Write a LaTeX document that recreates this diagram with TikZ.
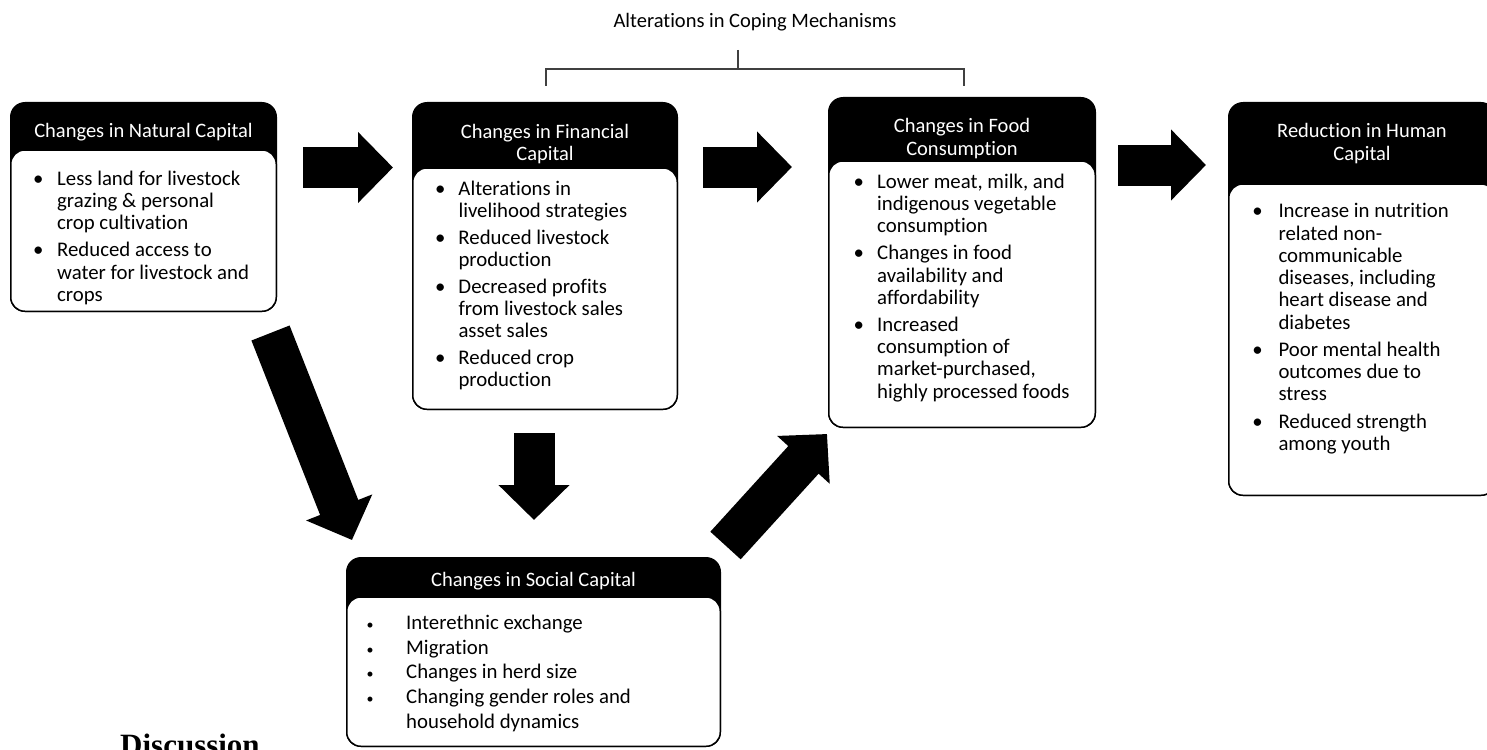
\documentclass[tikz,border=0pt]{standalone}
\usepackage{fontspec}
\setmainfont{Carlito}[Ligatures={NoCommon}]
\newfontfamily\discfont{Liberation Serif}
\usetikzlibrary{arrows.meta}
\tikzset{
  hdr/.style={rectangle, rounded corners=15pt, fill=black, inner sep=0pt, outer sep=0pt, anchor=north west},
  bodybox/.style={rectangle, rounded corners=14pt, fill=white, draw=black, line width=1.5pt, inner sep=0pt, outer sep=0pt, anchor=north west},
  ttl/.style={text=white, anchor=base, inner sep=0pt, font=\fontsize{20.5}{22.3}\selectfont},
  txt/.style={text=black, anchor=base west, inner sep=0pt, font=\fontsize{20.8}{22.3}\selectfont},
  fat/.style={line width=41pt, -{Triangle[length=35pt,width=69pt]}},
  brk/.style={line width=1.3pt, draw=black!75},
}
\newcommand\bul[1]{\llap{\makebox[0pt][c]{\textbullet}\hspace{#1}}}
\newcommand\sbul{\llap{\makebox[0pt][c]{\fontsize{14}{14}\selectfont\textbullet}\hspace{36pt}}}
\newcommand\lft[1]{\begin{tabular}[t]{@{}l@{}}#1\end{tabular}}
\newcommand\ctr[1]{\begin{tabular}[t]{@{}c@{}}#1\end{tabular}}
\begin{document}
\begin{tikzpicture}[x=1pt,y=-1pt]
\clip (0,0) rectangle (1487,749);
% top bracket
\node[anchor=base, inner sep=0pt, font=\fontsize{20.5}{22.3}\selectfont] (cope) at (755,28) {Alterations in Coping Mechanisms};
\coordinate (bt) at (738,50);
\coordinate (bm) at (738,69);
\coordinate (bl) at (546,86);
\coordinate (br) at (964,69);
\coordinate (brd) at (964,86);
\draw[brk] (bt) -- (bm);
\draw[brk] (bl) |- (br) -- (brd);
% box 1
\node[hdr, minimum width=267pt, minimum height=210pt] (nat) at (10,102) {};
\node[bodybox, minimum width=265.5pt, minimum height=161.25pt] (natb) at (10.75,150) {};
\node[ttl] (natt) at (143.5,138) {\ctr{Changes in Natural Capital}};
\node[txt] (natx) at (57,185) {\lft{\bul{19pt}Less land for livestock\\grazing \& personal\\crop cultivation\\[5pt]
\bul{19pt}Reduced access to\\water for livestock and\\crops}};
% box 2
\node[hdr, minimum width=266pt, minimum height=308pt] (fin) at (412,102) {};
\node[bodybox, minimum width=264.5pt, minimum height=241.25pt] (finb) at (412.75,168) {};
\node[ttl] (fint) at (545,138.3) {\ctr{Changes in Financial\\Capital}};
\node[txt] (finx) at (458.3,195) {\lft{\bul{18.3pt}Alterations in\\livelihood strategies\\[4.5pt]
\bul{18.3pt}Reduced livestock\\production\\[4.5pt]
\bul{18.3pt}Decreased profits\\from livestock sales\\asset sales\\[4.5pt]
\bul{18.3pt}Reduced crop\\production}};
% box 3
\node[hdr, minimum width=268pt, minimum height=331pt] (food) at (828,97) {};
\node[bodybox, minimum width=266.5pt, minimum height=266.25pt] (foodb) at (828.75,161) {};
\node[ttl] (foodt) at (962,132.7) {\ctr{Changes in Food\\Consumption}};
\node[txt] (foodx) at (877,188.3) {\lft{\bul{18.5pt}Lower meat, milk, and\\indigenous vegetable\\consumption\\[4.5pt]
\bul{18.5pt}Changes in food\\availability and\\affordability\\[4.5pt]
\bul{18.5pt}Increased\\consumption of\\market-purchased,\\highly processed foods}};
% box 4
\node[hdr, minimum width=268pt, minimum height=394pt] (hum) at (1228,102) {};
\node[bodybox, minimum width=266.5pt, minimum height=311.25pt] (humb) at (1228.75,184) {};
\node[ttl] (humt) at (1362,137.7) {\ctr{Reduction in Human\\Capital}};
\node[txt] (humx) at (1278.3,217.7) {\lft{\bul{21pt}Increase in nutrition\\related non-\\communicable\\diseases, including\\heart disease and\\diabetes\\[4.8pt]
\bul{21pt}Poor mental health\\outcomes due to\\stress\\[4.8pt]
\bul{21pt}Reduced strength\\among youth}};
% box 5
\node[hdr, minimum width=375pt, minimum height=190pt] (soc) at (346,557) {};
\node[bodybox, minimum width=373.5pt, minimum height=149.25pt] (socb) at (346.75,597) {};
\node[ttl] (soct) at (533.5,586.7) {\ctr{Changes in Social Capital}};
\node[txt, font=\fontsize{20.8}{24.75}\selectfont] (socx) at (406,629.3) {\lft{\sbul Interethnic exchange\\
\sbul Migration\\
\sbul Changes in herd size\\
\sbul Changing gender roles and\\household dynamics}};
% fat arrows
\coordinate (a1s) at (303,167.5); \coordinate (a1e) at (393,167.5);
\coordinate (a2s) at (703,167);   \coordinate (a2e) at (792,167);
\coordinate (a3s) at (1118,165);  \coordinate (a3e) at (1206,165);
\coordinate (a4s) at (534,433);   \coordinate (a4e) at (534,520);
\coordinate (a5s) at (270.5,333); \coordinate (a5e) at (352,540);
\coordinate (a6s) at (725.5,545.5); \coordinate (a6e) at (827,434);
\draw[fat] (a1s) -- (a1e);
\draw[fat] (a2s) -- (a2e);
\draw[fat] (a3s) -- (a3e);
\draw[fat] (a4s) -- (a4e);
\draw[fat] (a5s) -- (a5e);
\draw[fat] (a6s) -- (a6e);
% heading below
\node[anchor=base west, inner sep=0pt, font=\discfont\bfseries\fontsize{31}{31}\selectfont] (disc) at (120,755) {Discussion};
\end{tikzpicture}
\end{document}
